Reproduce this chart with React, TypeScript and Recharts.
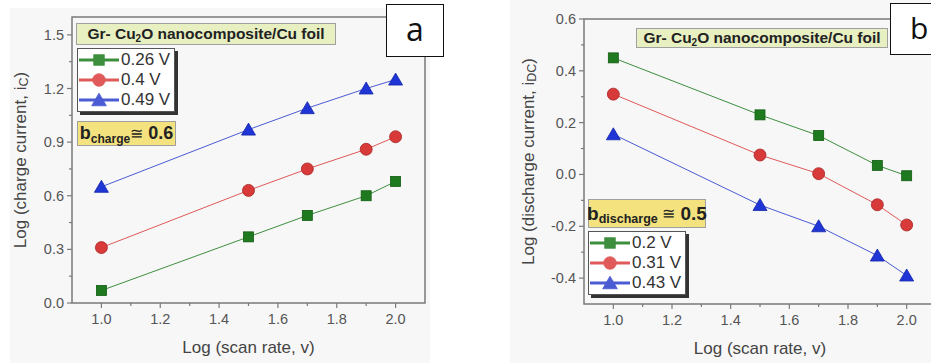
import React from 'react';
import {
  LineChart,
  Line,
  XAxis,
  YAxis,
  Legend,
  ReferenceArea,
} from 'recharts';

// x values shared by both panels: Log (scan rate)
const scanRate = [1.0, 1.5, 1.7, 1.9, 2.0];

// panel a: Log (charge current)
const charge026 = [0.07, 0.37, 0.49, 0.6, 0.68];
const charge040 = [0.31, 0.63, 0.75, 0.86, 0.93];
const charge049 = [0.65, 0.97, 1.09, 1.2, 1.25];

// panel b: Log (discharge current)
const discharge020 = [0.45, 0.23, 0.15, 0.035, -0.005];
const discharge031 = [0.31, 0.075, 0.003, -0.117, -0.195];
const discharge043 = [0.155, -0.118, -0.2, -0.313, -0.39];

// tick labels
const xMajor = [1.0, 1.2, 1.4, 1.6, 1.8, 2.0];
const xMinor = [1.1, 1.3, 1.5, 1.7, 1.9];
const aYMajor = [0, 0.3, 0.6, 0.9, 1.2, 1.5];
const aYMinor = [0.15, 0.45, 0.75, 1.05, 1.35];
const bYMajor = [-0.4, -0.2, 0, 0.2, 0.4, 0.6];
const bYMinor = [-0.3, -0.1, 0.1, 0.3, 0.5];

const chargeRows = scanRate.map((x, i) => ({
  x,
  v026: charge026[i],
  v040: charge040[i],
  v049: charge049[i],
}));

const dischargeRows = scanRate.map((x, i) => ({
  x,
  v020: discharge020[i],
  v031: discharge031[i],
  v043: discharge043[i],
}));

const AXIS = '#7a7a7a';
const TICK_TEXT = '#555';
const FONT = '"Liberation Sans", Arial, sans-serif';

const GREEN = { line: '#3d8f3d', fill: '#1f7a1f', edge: '#125c12' };
const RED = { line: '#e05a5a', fill: '#d83a3a', edge: '#a82424' };
const BLUE = { line: '#4b5bd4', fill: '#1f35d6', edge: '#1426a8' };

type Shape = 'square' | 'circle' | 'triangle';

function Marker({ cx, cy, shape, fill, edge, k = 1 }: any) {
  if (shape === 'square') {
    const h = 5 * k;
    return <rect x={cx - h} y={cy - h} width={2 * h} height={2 * h} fill={fill} stroke={edge} strokeWidth={0.8} />;
  }
  if (shape === 'circle') {
    return <circle cx={cx} cy={cy} r={6 * k} fill={fill} stroke={edge} strokeWidth={0.8} />;
  }
  return (
    <polygon
      points={`${cx},${cy - 6.5 * k} ${cx - 7 * k},${cy + 5.5 * k} ${cx + 7 * k},${cy + 5.5 * k}`}
      fill={fill}
      stroke={edge}
      strokeWidth={0.8}
    />
  );
}

const dotFor = (shape: Shape, c: any) => (p: any) => (
  <Marker key={`${shape}-${p.index}`} cx={p.cx} cy={p.cy} shape={shape} fill={c.fill} edge={c.edge} />
);

const isMajor = (v: number, majors: number[]) => majors.some((m) => Math.abs(m - v) < 1e-6);

function XTick(props: any) {
  const { x, y, payload } = props;
  const major = isMajor(payload.value, xMajor);
  return (
    <g>
      <line x1={x} x2={x} y1={y} y2={y + (major ? 5 : 3)} stroke={AXIS} strokeWidth={1.2} />
      {major && (
        <text x={x} y={y + 21} textAnchor="middle" fontSize={14.5} fill={TICK_TEXT} fontFamily={FONT}>
          {payload.value.toFixed(1)}
        </text>
      )}
    </g>
  );
}

function YTick(props: any) {
  const { x, y, payload, majors } = props;
  const major = isMajor(payload.value, majors);
  return (
    <g>
      <line x1={x} x2={x - (major ? 5 : 3)} y1={y} y2={y} stroke={AXIS} strokeWidth={1.2} />
      {major && (
        <text x={x - 8} y={y + 5} textAnchor="end" fontSize={14.5} fill={TICK_TEXT} fontFamily={FONT}>
          {payload.value.toFixed(1)}
        </text>
      )}
    </g>
  );
}

const xTitle = (props: any) => {
  const vb = props.viewBox;
  return (
    <text x={vb.x + vb.width / 2} y={vb.y + 50} textAnchor="middle" fontSize={17} fill="#444" fontFamily={FONT}>
      Log (scan rate, v)
    </text>
  );
};

const yTitle = (offset: number, main: string, sub: string) => (props: any) => {
  const vb = props.viewBox;
  const cx = vb.x + offset;
  const cy = vb.y + vb.height / 2;
  return (
    <text
      x={cx}
      y={cy}
      transform={`rotate(-90, ${cx}, ${cy})`}
      textAnchor="middle"
      dominantBaseline="central"
      fontSize={17}
      fill="#444"
      fontFamily={FONT}
    >
      <tspan>{main}</tspan>
      <tspan dy={4} fontSize={12.5}>{sub}</tspan>
      <tspan dy={-4}>)</tspan>
    </text>
  );
};

const legendBox = (shapes: Record<string, Shape>, rowH: number) => (props: any) => (
  <div
    style={{
      background: '#fff',
      border: '1px solid #555',
      boxShadow: '3px 3px 0 #333',
      padding: '1px 4px 1px 1px',
      fontFamily: FONT,
    }}
  >
    {props.payload.map((e: any) => (
      <div key={e.value} style={{ display: 'flex', alignItems: 'center', height: rowH }}>
        <svg width={40} height={rowH} style={{ display: 'block' }}>
          <line x1={0} x2={40} y1={rowH / 2} y2={rowH / 2} stroke={e.color} strokeWidth={3} />
          <Marker cx={20} cy={rowH / 2} shape={shapes[e.dataKey]} fill={e.color} edge={e.color} k={1.05} />
        </svg>
        <span style={{ fontSize: 17, color: '#333', marginLeft: 2, whiteSpace: 'nowrap' }}>{e.value}</span>
      </div>
    ))}
  </div>
);

const titleBox: React.CSSProperties = {
  position: 'absolute',
  background: '#e8f0c2',
  border: '1px solid #a0a0a0',
  fontFamily: FONT,
  fontWeight: 'bold',
  fontSize: 15.5,
  color: '#222',
  display: 'flex',
  alignItems: 'center',
  justifyContent: 'center',
  whiteSpace: 'nowrap',
};

const bBox: React.CSSProperties = {
  position: 'absolute',
  background: '#f3e27e',
  border: '1px solid #a0a0a0',
  fontFamily: FONT,
  color: '#222',
  display: 'flex',
  alignItems: 'center',
  justifyContent: 'center',
  whiteSpace: 'nowrap',
};

const panelLabel: React.CSSProperties = {
  position: 'absolute',
  background: '#fff',
  border: '1.5px solid #111',
  fontFamily: '"Open Sans", sans-serif',
  color: '#111',
  display: 'flex',
  alignItems: 'center',
  justifyContent: 'center',
  boxSizing: 'border-box',
};

function TitleText() {
  return (
    <span>
      Gr- Cu<sub style={{ fontSize: 10, verticalAlign: -3 }}>2</sub>O nanocomposite/Cu foil
    </span>
  );
}

export default function App() {
  return (
    <div
      style={{
        position: 'fixed',
        left: 0,
        top: 0,
        width: 931,
        height: 363,
        overflow: 'hidden',
        background: '#fff',
      }}
    >
      <div style={{ position: 'absolute', left: 10, top: 8, width: 420, height: 355, background: '#f7f7f7' }} />
      <div style={{ position: 'absolute', left: 510, top: 0, width: 421, height: 363, background: '#f7f7f7' }} />

      {/* panel a */}
      <div style={{ position: 'absolute', left: 0, top: 0 }}>
        <LineChart width={440} height={363} data={chargeRows} margin={{ top: 17, right: 15, bottom: 0, left: 0 }}>
          <XAxis
            dataKey="x"
            type="number"
            domain={[0.9, 2.1]}
            ticks={[...xMajor, ...xMinor].sort((p, q) => p - q)}
            interval={0}
            tickSize={0}
            tickMargin={0}
            tickLine={false}
            axisLine={false}
            height={60}
            tick={(p: any) => <XTick {...p} />}
            label={xTitle}
          />
          <YAxis
            type="number"
            domain={[0, 1.6]}
            ticks={[...aYMajor, ...aYMinor].sort((p, q) => p - q)}
            interval={0}
            tickSize={0}
            tickMargin={0}
            tickLine={false}
            axisLine={false}
            width={72}
            tick={(p: any) => <YTick {...p} majors={aYMajor} />}
            label={yTitle(20, 'Log (charge current, i', 'C')}
          />
          <ReferenceArea x1={0.9} x2={2.1} y1={0} y2={1.6} fill="#fff" fillOpacity={0} stroke={AXIS} strokeWidth={1.5} ifOverflow="visible" />
          <Line dataKey="v026" name="0.26 V" stroke={GREEN.line} strokeWidth={1} dot={dotFor('square', GREEN)} isAnimationActive={false} />
          <Line dataKey="v040" name="0.4 V" stroke={RED.line} strokeWidth={1} dot={dotFor('circle', RED)} isAnimationActive={false} />
          <Line dataKey="v049" name="0.49 V" stroke={BLUE.line} strokeWidth={1} dot={dotFor('triangle', BLUE)} isAnimationActive={false} />
          <Legend
            layout="vertical"
            align="center"
            verticalAlign="middle"
            wrapperStyle={{ left: 77, top: 48, width: 'auto' }}
            content={legendBox({ v026: 'square', v040: 'circle', v049: 'triangle' }, 20)}
          />
        </LineChart>
      </div>

      {/* panel b */}
      <div style={{ position: 'absolute', left: 470, top: 0 }}>
        <LineChart width={476} height={363} data={dischargeRows} margin={{ top: 19, right: 10, bottom: 0, left: 0 }}>
          <XAxis
            dataKey="x"
            type="number"
            domain={[0.9, 2.1]}
            ticks={[...xMajor, ...xMinor].sort((p, q) => p - q)}
            interval={0}
            tickSize={0}
            tickMargin={0}
            tickLine={false}
            axisLine={false}
            height={59}
            tick={(p: any) => <XTick {...p} />}
            label={xTitle}
          />
          <YAxis
            type="number"
            domain={[-0.5, 0.6]}
            ticks={[...bYMajor, ...bYMinor].sort((p, q) => p - q)}
            interval={0}
            tickSize={0}
            tickMargin={0}
            tickLine={false}
            axisLine={false}
            width={114}
            tick={(p: any) => <YTick {...p} majors={bYMajor} />}
            label={yTitle(58, 'Log (discharge current, i', 'DC')}
          />
          <ReferenceArea x1={0.9} x2={2.1} y1={-0.5} y2={0.6} fill="#fff" fillOpacity={0} stroke={AXIS} strokeWidth={1.5} ifOverflow="visible" />
          <Line dataKey="v020" name="0.2 V" stroke={GREEN.line} strokeWidth={1} dot={dotFor('square', GREEN)} isAnimationActive={false} />
          <Line dataKey="v031" name="0.31 V" stroke={RED.line} strokeWidth={1} dot={dotFor('circle', RED)} isAnimationActive={false} />
          <Line dataKey="v043" name="0.43 V" stroke={BLUE.line} strokeWidth={1} dot={dotFor('triangle', BLUE)} isAnimationActive={false} />
          <Legend
            layout="vertical"
            align="center"
            verticalAlign="middle"
            wrapperStyle={{ left: 118, top: 231, width: 'auto' }}
            content={legendBox({ v020: 'square', v031: 'circle', v043: 'triangle' }, 20)}
          />
        </LineChart>
      </div>

      {/* annotations */}
      <div style={{ ...titleBox, left: 76, top: 23, width: 258, height: 20 }}>
        <TitleText />
      </div>
      <div style={{ ...bBox, left: 77, top: 121, width: 97, height: 23 }}>
        <span style={{ fontWeight: 'bold', fontSize: 18 }}>b</span>
        <span style={{ fontWeight: 'bold', fontSize: 12, position: 'relative', top: 5 }}>charge</span>
        <span style={{ fontSize: 16 }}>≅</span>
        <span style={{ fontWeight: 'bold', fontSize: 18 }}>&nbsp;0.6</span>
      </div>

      <div style={{ ...titleBox, left: 636, top: 28, width: 250, height: 18 }}>
        <TitleText />
      </div>
      <div style={{ ...bBox, left: 588, top: 199, width: 116, height: 27 }}>
        <span style={{ fontWeight: 'bold', fontSize: 19 }}>b</span>
        <span style={{ fontWeight: 'bold', fontSize: 12.5, position: 'relative', top: 5 }}>discharge</span>
        <span style={{ fontSize: 16 }}>&nbsp;≅</span>
        <span style={{ fontWeight: 'bold', fontSize: 19 }}>&nbsp;0.5</span>
      </div>

      <div style={{ ...panelLabel, left: 386, top: 4, width: 58, height: 53, fontSize: 32 }}>
        <span style={{ marginTop: -4 }}>a</span>
      </div>
      <div style={{ ...panelLabel, left: 890, top: 3, width: 56, height: 52, fontSize: 30, justifyContent: 'flex-start', paddingLeft: 19 }}>
        <span style={{ marginTop: -4 }}>b</span>
      </div>
    </div>
  );
}
